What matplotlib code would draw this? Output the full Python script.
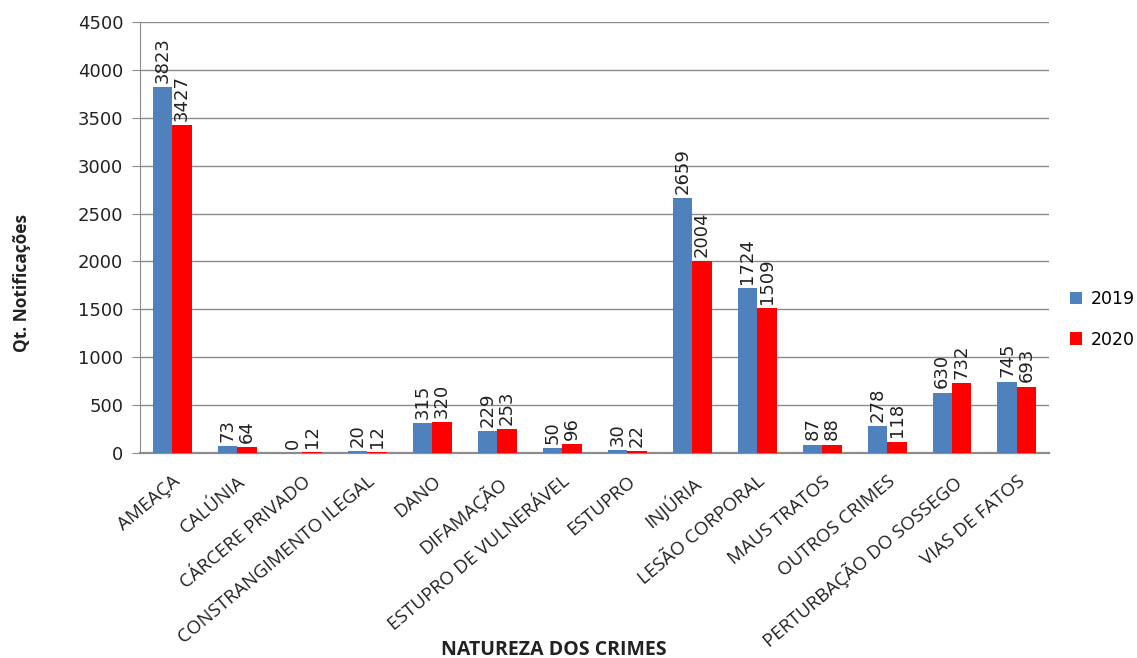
import matplotlib.pyplot as plt
import numpy as np

BLUE = '#4F81BD'
RED = '#FF0000'
GRID = '#8c8c8c'

crimes = ["AMEAÇA", "CALÚNIA", "CÁRCERE PRIVADO", "CONSTRANGIMENTO ILEGAL",
          "DANO", "DIFAMAÇÃO", "ESTUPRO DE VULNERÁVEL", "ESTUPRO", "INJÚRIA",
          "LESÃO CORPORAL", "MAUS TRATOS", "OUTROS CRIMES",
          "PERTURBAÇÃO DO SOSSEGO", "VIAS DE FATOS"]
qt_2019 = [3823, 73, 0, 20, 315, 229, 50, 30, 2659, 1724, 87, 278, 630, 745]
qt_2020 = [3427, 64, 12, 12, 320, 253, 96, 22, 2004, 1509, 88, 118, 732, 693]

fig = plt.figure(figsize=(11.37, 6.58), dpi=100)
ax = fig.add_axes([0.123, 0.3116, 0.800, 0.655])

x = np.arange(len(crimes))
w = 0.3
b1 = ax.bar(x - w/2, qt_2019, w, color=BLUE, label='2019', zorder=3)
b2 = ax.bar(x + w/2, qt_2020, w, color=RED, label='2020', zorder=3)

# value labels, vertical, just above each bar
for bars in (b1, b2):
    for r in bars:
        ax.annotate(str(int(r.get_height())),
                    (r.get_x() + r.get_width()/2, r.get_height()),
                    xytext=(0, 3), textcoords='offset points',
                    rotation=90, ha='center', va='bottom',
                    fontsize=13, family='DejaVu Sans', color='#222222')

ax.set_xlim(-0.5, len(crimes) - 0.5)
ax.set_ylim(0, 4500)
ax.set_yticks(np.arange(0, 4501, 500))
ax.yaxis.grid(True, color=GRID, lw=1, zorder=0)
ax.tick_params(axis='y', length=6, color=GRID, labelsize=13, pad=6,
               labelcolor='#222222')
ax.tick_params(axis='x', length=0, pad=14)
ax.set_xticks(x)
ax.set_xticklabels(crimes, rotation=40, ha='right', rotation_mode='anchor',
                   fontsize=13.5, family='Open Sans', color='#222222')

for s in ('top', 'right'):
    ax.spines[s].set_visible(False)
ax.spines['left'].set_color(GRID)
ax.spines['bottom'].set_color(GRID)
ax.spines['bottom'].set_linewidth(1.6)

fig.text(22 / 1137, 1 - 283 / 658, 'Qt. Notificações', rotation=90,
         ha='center', va='center', fontsize=12.5, fontweight='bold',
         family='Open Sans', color='#222222')
fig.text(554 / 1137, 1 - 650 / 658, 'NATUREZA DOS CRIMES', ha='center',
         va='center', fontsize=14, fontweight='bold', family='Open Sans',
         color='#222222')

ax.legend(loc='center left', bbox_to_anchor=(1.0, 0.31), frameon=False,
          prop={'family': 'DejaVu Sans', 'size': 12.5},
          handlelength=0.7, handleheight=0.7,
          labelspacing=1.3, handletextpad=0.5, borderaxespad=0.8)

fig.savefig('out.png', dpi=100)
